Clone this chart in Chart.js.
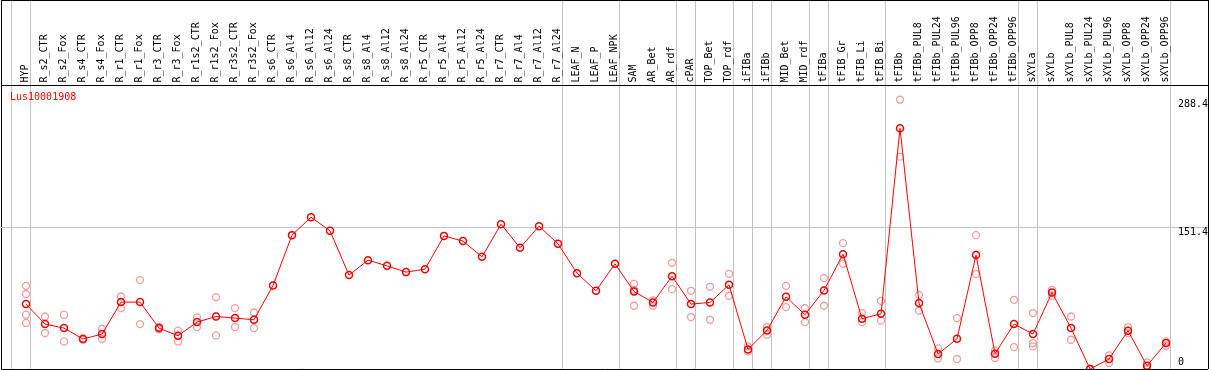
<!DOCTYPE html>
<html>

<head>
  <title>Lus10001908</title>
  <script src="https://cdn.jsdelivr.net/npm/chart.js"></script>
  <style>
    html, body { margin: 0; padding: 0; background: #fff; }
    #wrap { width: 1209px; height: 370px; }
  </style>
</head>

<body>
  <div id="wrap"><canvas id="myChart"></canvas></div>
  <script>
    var geneName = 'Lus10001908';

    var categories = ['HYP', 'R_s2_CTR', 'R_s2_Fox', 'R_s4_CTR', 'R_s4_Fox', 'R_r1_CTR', 'R_r1_Fox', 'R_r3_CTR',
      'R_r3_Fox', 'R_r1s2_CTR', 'R_r1s2_Fox', 'R_r3s2_CTR', 'R_r3s2_Fox', 'R_s6_CTR', 'R_s6_Al4', 'R_s6_Al12',
      'R_s6_Al24', 'R_s8_CTR', 'R_s8_Al4', 'R_s8_Al12', 'R_s8_Al24', 'R_r5_CTR', 'R_r5_Al4', 'R_r5_Al12',
      'R_r5_Al24', 'R_r7_CTR', 'R_r7_Al4', 'R_r7_Al12', 'R_r7_Al24', 'LEAF_N', 'LEAF_P', 'LEAF_NPK', 'SAM',
      'AR_Bet', 'AR_rdf', 'cPAR', 'TOP_Bet', 'TOP_rdf', 'iFIBa', 'iFIBb', 'MID_Bet', 'MID_rdf', 'tFIBa',
      'tFIB_Gr', 'tFIB_Li', 'tFIB_Bi', 'tFIBb', 'tFIBb_PUL8', 'tFIBb_PUL24', 'tFIBb_PUL96', 'tFIBb_OPP8',
      'tFIBb_OPP24', 'tFIBb_OPP96', 'sXYLa', 'sXYLb', 'sXYLb_PUL8', 'sXYLb_PUL24', 'sXYLb_PUL96',
      'sXYLb_OPP8', 'sXYLb_OPP24', 'sXYLb_OPP96'];

    // mean expression per sample (the red line)
    var meanValues = [69.5, 48.1, 43.8, 32.1, 37.4, 71.6, 71.6, 43.8, 35.6, 50.2, 56.2, 54.5, 52.7,
      89.4, 143.3, 162.5, 147.9, 100.5, 116.5, 110.4, 103.7, 106.9, 142.5, 136.9, 120.1, 155.0, 129.7,
      152.9, 134.0, 102.6, 83.7,
      112.6, 83.0, 71.2, 99.4, 69.5, 71.2, 90.1, 21.0, 41.3, 77.3, 58.1, 84.1, 122.9, 53.8, 59.1,
      257.7, 70.6, 16.0, 32.4, 121.9, 16.4, 48.1, 37.4, 81.9, 43.8, 0, 10.7, 41.0, 3.5, 27.8];

    // single replicates (pale circles)
    var replicateValues = [
      [89.0, 80.2, 58.1, 49.3], [56.2, 38.5], [58.1, 29.5], [31.5, 32.7], [42.8, 32.1], [77.6, 65.2],
      [95.2, 48.1], [42.5, 45.0], [41.0, 29.5], [55.2, 44.9], [77.0, 35.9], [65.2, 44.9], [60.5, 43.8],
      [], [], [], [], [], [], [], [], [], [], [], [], [], [], [], [], [], [], [],
      [91.2, 84.8, 67.7], [73.4, 67.7], [113.7, 85.5], [83.7, 55.6], [88.0, 52.7], [101.9, 78.4],
      [24.2, 18.8], [44.9, 36.7], [89.0, 66.3], [65.2, 50.2], [97.3, 67.7], [134.7, 112.6],
      [59.9, 50.2], [73.0, 52.0], [288.4, 227.3], [79.4, 62.3], [22.0, 11.3], [54.5, 10.7],
      [143.3, 101.6], [19.9, 11.8], [74.1, 23.5], [59.9, 27.8, 24.2], [84.8, 78.4], [56.2, 31.3],
      [0.5, 0], [14.5, 6.4], [44.9, 38.5], [7.1, 0], [29.5, 24.9]];

    // a separator line is drawn after each of these samples
    var groupEnds = ['HYP', 'R_r7_Al24', 'LEAF_NPK', 'AR_rdf', 'cPAR', 'TOP_rdf', 'iFIBa', 'iFIBb',
      'MID_rdf', 'tFIBa', 'tFIB_Bi', 'tFIBb_OPP96', 'sXYLa', 'sXYLb_OPP96'];

    var yTickValues = [0, 151.4, 288.4];

    var FONT = { family: "'DejaVu Sans Mono', monospace", size: 10 };
    var xMin = -1.316, xMax = 62.21, sepOffset = 0.237;
    var sepAfter = groupEnds.map(function (n) { return categories.indexOf(n); });
    var GRAY = '#c3c3c3', NONE = 'rgba(0,0,0,0)';

    var meanPoints = meanValues.map(function (v, i) { return { x: i, y: v }; });
    var repPoints = [];
    replicateValues.forEach(function (arr, i) {
      arr.forEach(function (v) { repPoints.push({ x: i, y: v }); });
    });

    var ctx = document.getElementById('myChart').getContext('2d');
    var myChart = new Chart(ctx, {
      type: 'line',
      data: {
        datasets: [{
          label: geneName,
          data: meanPoints,
          borderColor: '#ff0000',
          borderWidth: 1,
          pointRadius: 3.5,
          pointBorderWidth: 1.5,
          pointBorderColor: '#ee0000',
          pointBackgroundColor: NONE,
          order: 1
        }, {
          label: 'replicates',
          data: repPoints,
          showLine: false,
          pointRadius: 3.5,
          pointBorderWidth: 1.3,
          pointBorderColor: '#f29c9c',
          pointBackgroundColor: NONE,
          order: 2
        }]
      },
      options: {
        responsive: true,
        maintainAspectRatio: false,
        animation: false,
        devicePixelRatio: 1,
        events: [],
        layout: { autoPadding: false, padding: { left: 1, right: 1, top: 0, bottom: 1 } },
        scales: {
          x: {
            type: 'linear',
            position: 'top',
            min: xMin,
            max: xMax,
            afterBuildTicks: function (scale) {
              var t = [{ value: xMin }, { value: -1 + sepOffset }];
              categories.forEach(function (c, i) { t.push({ value: i + sepOffset }); });
              t.push({ value: xMax });
              scale.ticks = t;
            },
            afterFit: function (scale) {
              scale.height = 85;
              scale.paddingLeft = 0; scale.paddingRight = 0;
            },
            grid: {
              tickLength: 85,
              lineWidth: 1,
              color: function (c) {
                var i = c.index;
                if (i === 0 || i === categories.length + 2) return '#000';
                if (i === 1) return GRAY;
                return sepAfter.indexOf(i - 2) >= 0 ? GRAY : NONE;
              }
            },
            border: { display: true, color: '#000', width: 1 },
            ticks: {
              autoSkip: false,
              minRotation: 90,
              maxRotation: 90,
              padding: -82.5,
              labelOffset: 7,
              color: '#000',
              font: FONT,
              callback: function (v, i) {
                return (i >= 2 && i - 2 < categories.length) ? categories[i - 2] : '';
              }
            }
          },
          xTop: {
            type: 'linear',
            axis: 'x',
            position: 'top',
            weight: 10,
            min: xMin,
            max: xMax,
            afterFit: function (scale) { scale.height = 0; },
            grid: { color: NONE, drawOnChartArea: false, drawTicks: false },
            border: { display: true, color: '#000', width: 1 },
            ticks: { display: false }
          },
          y: {
            position: 'right',
            min: 0,
            max: 304,
            afterBuildTicks: function (scale) {
              scale.ticks = yTickValues.map(function (v) { return { value: v }; });
            },
            afterFit: function (scale) {
              scale.width = 0;
              scale.paddingTop = 0; scale.paddingBottom = 0;
            },
            border: { display: false },
            grid: {
              drawTicks: false,
              color: function (c) {
                if (c.index === 0) return '#000';
                return c.index === yTickValues.length - 1 ? NONE : GRAY;
              }
            },
            ticks: {
              mirror: true,
              crossAlign: 'far',
              align: 'start',
              padding: 0,
              color: '#000',
              font: FONT,
              callback: function (v, i) {
                var s = String(yTickValues[i]);
                return i === 0 ? [s, '', ''] : s;
              }
            }
          }
        },
        plugins: {
          tooltip: { enabled: false },
          legend: {
            position: 'chartArea',
            align: 'start',
            labels: {
              boxWidth: 0,
              boxHeight: 186,
              padding: 4,
              color: '#ff0000',
              font: FONT,
              generateLabels: function () {
                return [{
                  text: geneName, fillStyle: NONE, strokeStyle: NONE, lineWidth: 0,
                  fontColor: '#ff0000', hidden: false, datasetIndex: 0
                }];
              }
            }
          }
        }
      }
    });
  </script>
</body>

</html>
